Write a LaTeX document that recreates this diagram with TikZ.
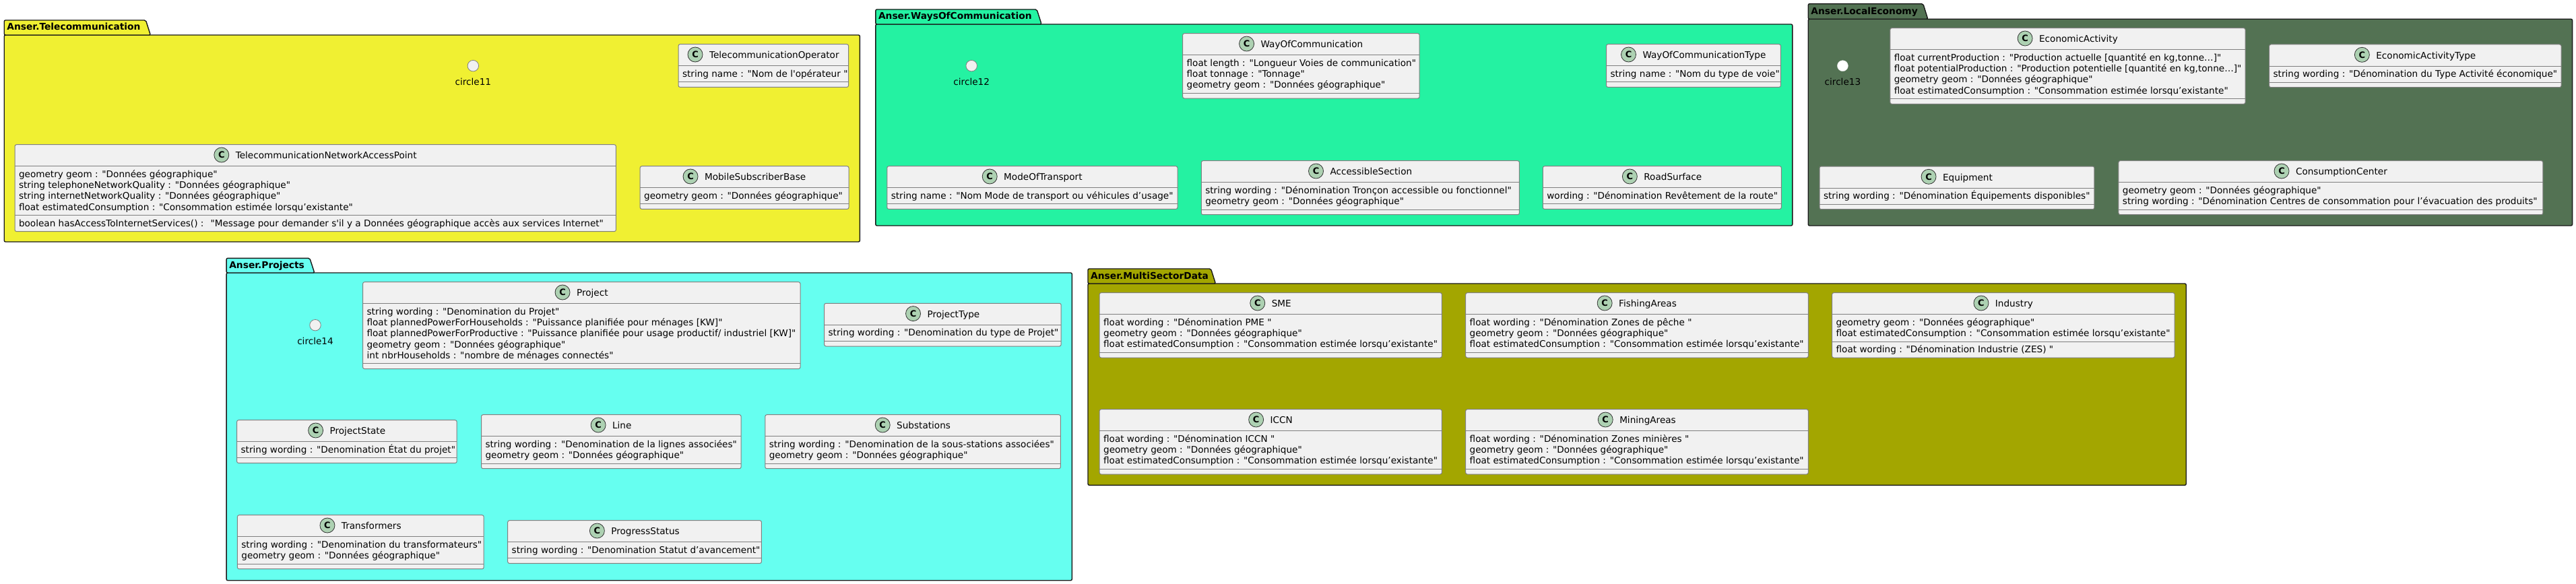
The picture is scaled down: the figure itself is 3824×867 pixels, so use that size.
\documentclass[tikz,border=0pt]{standalone}
\usepackage{fontspec}
\usetikzlibrary{calc,shapes.geometric}
\newfontfamily\umlfont{DejaVu Sans}
\definecolor{cTel}{HTML}{F0F032}
\definecolor{cWay}{HTML}{24F2A2}
\definecolor{cEco}{HTML}{537253}
\definecolor{cPrj}{HTML}{66FFF0}
\definecolor{cMsd}{HTML}{A3A600}
\definecolor{cBox}{HTML}{F1F1F1}
\definecolor{cBorder}{HTML}{7F7F7F}
\definecolor{cIcon}{HTML}{ADD1B2}

\def\curfont{\umlfont\fontsize{13.6}{16.3}\selectfont}
\def\iconr{11}
\def\iconw{22}
\def\icongap{32}

\tikzset{
 classbox/.style={draw=cBorder, fill=cBox, line width=1pt, rounded corners=2.5pt, inner sep=0pt, outer sep=0pt},
 sepline/.style={draw=cBorder, line width=1pt},
 txt/.style={font=\curfont, inner sep=0pt, outer sep=0pt, text=black},
 icon/.style={circle, draw=black!80, fill=cIcon, line width=0.8pt, inner sep=0pt, minimum size=\iconw pt, font=\umlfont\bfseries\fontsize{13}{13}\selectfont},
 pkgbody/.style={draw=black!90, line width=1.4pt, rounded corners=2pt, inner sep=0pt, outer sep=0pt},
 pkgtab/.style={draw=black!90, line width=1.4pt, rounded corners=2pt},
 pkglabel/.style={font=\umlfont\bfseries\fontsize{13.8}{16}\selectfont, inner sep=0pt, text=black},
 lollipop/.style={circle, draw=cBorder, fill=cBox, line width=0.8pt, inner sep=0pt, minimum size=16.5pt},
}

% #1 name, #2 x, #3 y, #4 width, #5 title, #6 n attrs, #7 attrs, #8 n methods, #9 methods
\newcommand\umlclass[9]{%
 \pgfmathsetmacro\hA{#6*16.3+7.7}%
 \pgfmathsetmacro\hM{#8*16.3+7.7}%
 \pgfmathsetmacro\hT{32+\hA+\hM}%
 \node[classbox, minimum width=#4pt, minimum height=\hT pt, anchor=north west] (#1) at (#2,#3) {};
 \draw[sepline] ($(#1.north west)+(0,32)$) -- ($(#1.north east)+(0,32)$);
 \draw[sepline] ($(#1.north west)+(0,{32+\hA})$) -- ($(#1.north east)+(0,{32+\hA})$);
 \node[txt, anchor=base] (#1-t) at ($(#1.north)+(0,21)$) {\hspace*{\icongap pt}#5};
 \node[icon] (#1-i) at ($(#1-t.base west)+(\iconr,-5.7)$) {C};
 \foreach \l [count=\i] in {#7} {\node[txt, anchor=base west] (#1-a\i) at ($(#1.north west)+(6,{32+16.5+(\i-1)*16.3})$) {\l};}
 \ifnum#8>0 \foreach \l [count=\i] in {#9} {\node[txt, anchor=base west] (#1-m\i) at ($(#1.north west)+(6,{32+\hA+16.5+(\i-1)*16.3})$) {\l};}\fi
}

% #1 name #2 color #3 L #4 tab top #5 body top #6 R #7 B #8 tab right #9 label
\newcommand\umlpkg[9]{%
 \pgfmathsetmacro\pw{#6-#3}\pgfmathsetmacro\ph{#7-#5}%
 \node[pkgbody, fill=#2, minimum width=\pw pt, minimum height=\ph pt, anchor=north west] (#1) at (#3,#5) {};
 \draw[pkgtab, fill=#2] (#3,#5) -- (#3,#4) -- (#8,#4) -- ({#8+7},#5) -- cycle;
 \node[pkglabel, anchor=base west] (#1-l) at ({#3+4},{#5-7}) {#9};
}

\begin{document}
\begin{tikzpicture}[x=1pt,y=-1pt]
\fill[white] (0,0) rectangle (3824,867);
\useasboundingbox (0,0) rectangle (3824,867);

% ---------------- Telecommunication
\umlpkg{telecom}{cTel}{6.2}{30}{52}{1276.4}{359}{216.4}{Anser.Telecommunication}
\node[lollipop] (c11) at (702.3,97.7) {};
\node[txt, anchor=base] (c11-l) at (702.3,126.5) {circle11};
\umlclass{telOp}{1007}{65.7}{252.6}{TelecommunicationOperator}{1}{{string name : "Nom de l'opérateur "}}{0}{}
\umlclass{telNAP}{22}{214.7}{892.4}{TelecommunicationNetworkAccessPoint}{4}{{geometry geom : "Données géographique"},{string telephoneNetworkQuality : "Données géographique"},{string internetNetworkQuality : "Données géographique"},{float estimatedConsumption : "Consommation estimée lorsqu’existante"}}{1}{{boolean hasAccessToInternetServices() : \ "Message pour demander s'il y a Données géographique accès aux services Internet"}}
\umlclass{mobSub}{950.2}{246.7}{309.8}{MobileSubscriberBase}{1}{{geometry geom : "Données géographique"}}{0}{}

% ---------------- WaysOfCommunication
\umlpkg{ways}{cWay}{1299.8}{14}{36}{2660.8}{335}{1539.1}{Anser.WaysOfCommunication}
\node[lollipop] (c12) at (1442.2,97.7) {};
\node[txt, anchor=base] (c12-l) at (1442.2,126.5) {circle12};
\umlclass{way}{1755.6}{49.7}{351.6}{WayOfCommunication}{3}{{float length : "Longueur Voies de communication"},{float tonnage : "Tonnage"},{geometry geom : "Données géographique"}}{0}{}
\umlclass{wayType}{2384.5}{65.7}{258.9}{WayOfCommunicationType}{1}{{string name : "Nom du type de voie"}}{0}{}
\umlclass{mode}{1316.8}{246.7}{431.2}{ModeOfTransport}{1}{{string name : "Nom Mode de transport ou véhicules d’usage"}}{0}{}
\umlclass{access}{1783.3}{238.7}{472.1}{AccessibleSection}{2}{{string wording : "Dénomination Tronçon accessible ou fonctionnel"},{geometry geom : "Données géographique"}}{0}{}
\umlclass{road}{2290.3}{246.7}{354}{RoadSurface}{1}{{wording : "Dénomination Revêtement de la route"}}{0}{}

% ---------------- Projects
\umlpkg{projects}{cPrj}{336.1}{383.3}{405}{1591.3}{861.7}{459.8}{Anser.Projects}
\node[lollipop] (c14) at (468,482.7) {};
\node[txt, anchor=base] (c14-l) at (468,511.5) {circle14};
\umlclass{project}{538.6}{418.7}{649.4}{Project}{5}{{string wording : "Denomination du Projet"},{float plannedPowerForHouseholds : "Puissance planifiée pour ménages [KW]"},{float plannedPowerForProductive : "Puissance planifiée pour usage productif/ industriel [KW]"},{geometry geom : "Données géographique"},{int nbrHouseholds : "nombre de ménages connectés"}}{0}{}
\umlclass{projType}{1223.6}{450.3}{351.6}{ProjectType}{1}{{string wording : "Denomination du type de Projet"}}{0}{}
\umlclass{projState}{351.6}{623.7}{326.6}{ProjectState}{1}{{string wording : "Denomination État du projet"}}{0}{}
\umlclass{line}{714.5}{615.7}{385.6}{Line}{2}{{string wording : "Denomination de la lignes associées"},{geometry geom : "Données géographique"}}{0}{}
\umlclass{subst}{1135.8}{615.7}{438.6}{Substations}{2}{{string wording : "Denomination de la sous-stations associées"},{geometry geom : "Données géographique"}}{0}{}
\umlclass{transf}{352.4}{764.7}{365.8}{Transformers}{2}{{string wording : "Denomination du transformateurs"},{geometry geom : "Données géographique"}}{0}{}
\umlclass{progress}{753.7}{772.7}{376.7}{ProgressStatus}{1}{{string wording : "Denomination Statut d’avancement"}}{0}{}

% ---------------- LocalEconomy
\umlpkg{eco}{cEco}{2684.2}{5.7}{28.3}{3818.5}{335}{2854.8}{Anser.LocalEconomy}
\node[circle, fill=white, draw=white!80!gray, inner sep=0pt, minimum size=16pt] (c13) at (2735.4,97.7) {};
\node[txt, anchor=base] (c13-l) at (2735.4,126.5) {circle13};
\umlclass{ecoAct}{2805.8}{41.7}{527.3}{EconomicActivity}{4}{{float currentProduction : "Production actuelle [quantité en kg,tonne…]"},{float potentialProduction : "Production potentielle [quantité en kg,tonne…]"},{geometry geom : "Données géographique"},{float estimatedConsumption : "Consommation estimée lorsqu’existante"}}{0}{}
\umlclass{ecoType}{3368.6}{66}{433.4}{EconomicActivityType}{1}{{string wording : "Dénomination du Type Activité économique"}}{0}{}
\umlclass{equip}{2701}{247}{407.9}{Equipment}{1}{{string wording : "Dénomination Équipements disponibles"}}{0}{}
\umlclass{consum}{3144.9}{238.7}{630}{ConsumptionCenter}{2}{{geometry geom : "Données géographique"},{string wording : "Dénomination Centres de consommation pour l’évacuation des produits"}}{0}{}

% ---------------- MultiSectorData
\umlpkg{msd}{cMsd}{1615}{399}{421}{3245.2}{720.3}{1797.5}{Anser.MultiSectorData}
\umlclass{sme}{1632.1}{434.7}{508.3}{SME}{3}{{float wording : "Dénomination PME "},{geometry geom : "Données géographique"},{float estimatedConsumption : "Consommation estimée lorsqu’existante"}}{0}{}
\umlclass{iccn}{1632.1}{607.7}{508.3}{ICCN}{3}{{float wording : "Dénomination ICCN "},{geometry geom : "Données géographique"},{float estimatedConsumption : "Consommation estimée lorsqu’existante"}}{0}{}
\umlclass{fishing}{2175.7}{434.7}{508.6}{FishingAreas}{3}{{float wording : "Dénomination Zones de pêche "},{geometry geom : "Données géographique"},{float estimatedConsumption : "Consommation estimée lorsqu’existante"}}{0}{}
\umlclass{mining}{2175.7}{607.7}{508.6}{MiningAreas}{3}{{float wording : "Dénomination Zones minières "},{geometry geom : "Données géographique"},{float estimatedConsumption : "Consommation estimée lorsqu’existante"}}{0}{}
\umlclass{industry}{2719.6}{434.7}{508.6}{Industry}{2}{{geometry geom : "Données géographique"},{float estimatedConsumption : "Consommation estimée lorsqu’existante"}}{1}{{float wording : "Dénomination Industrie (ZES) "}}
\end{tikzpicture}
\end{document}
